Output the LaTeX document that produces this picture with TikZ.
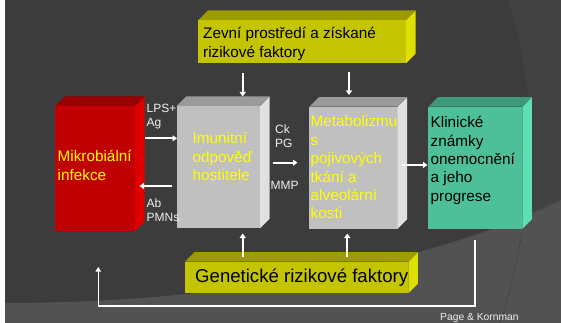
\documentclass[tikz,border=0pt]{standalone}
\usepackage{fontspec}
\setmainfont{Liberation Sans}
\usetikzlibrary{arrows.meta}
\definecolor{bgd}{HTML}{3C3C3C}
\definecolor{bgr}{HTML}{424242}
\definecolor{bgl}{HTML}{525252}
\definecolor{redF}{HTML}{C00000}
\definecolor{redS}{HTML}{E00000}
\definecolor{redT}{HTML}{990000}
\definecolor{grayF}{HTML}{C0C0C0}
\definecolor{grayS}{HTML}{E0E0E0}
\definecolor{grayT}{HTML}{9A9A9A}
\definecolor{grnF}{HTML}{4DBF99}
\definecolor{grnS}{HTML}{5CE0B4}
\definecolor{grnT}{HTML}{3E997A}
\definecolor{yelF}{HTML}{C4C400}
\definecolor{yelS}{HTML}{E0E000}
\definecolor{yelT}{HTML}{9C9C00}
\definecolor{txtY}{HTML}{FFFF00}
\definecolor{lbl}{HTML}{F0F0F0}
\newcommand\boxfaces[3]{%
  \fill[#2] (#1.north east) -- ++(9.5pt,9.5pt) -- ([shift={(9.5pt,9.5pt)}]#1.south east) -- (#1.south east) -- cycle;
  \fill[#3] (#1.north west) -- ++(9.5pt,9.5pt) -- ([shift={(9.5pt,9.5pt)}]#1.north east) -- (#1.north east) -- cycle;}
\tikzset{
  front/.style={anchor=north west, inner sep=0pt, outer sep=0pt, draw=none},
  btxt/.style={anchor=west, align=left, inner sep=0pt, font=\fontsize{15.3}{18.4}\selectfont},
  ltxt/.style={anchor=west, align=left, inner sep=0pt, text=lbl, font=\fontsize{12}{14}\selectfont},
  arr/.style={draw=white, line width=1.8pt, -{Triangle[length=4.5pt,width=6pt]}},
  fbarr/.style={draw=white, line width=1.4pt, -{Triangle[length=4.5pt,width=5.5pt]}}
}
\begin{document}
\begin{tikzpicture}[x=1pt,y=-1pt]
\useasboundingbox (0,0) rectangle (561,323);
% background
\fill[white] (0,0) rectangle (561,323);
\fill[bgd] (5,0) rectangle (561,323);
\fill[bgr] (508,0) .. controls (538,90) and (540,200) .. (500,323) -- (561,323) -- (561,0) -- cycle;
\fill[bgl] (5,303) .. controls (250,303) and (450,255) .. (561,200) -- (561,323) -- (5,323) -- cycle;
\draw[draw=bgd, line width=0.8pt, opacity=0.6] (522,233) .. controls (515,270) and (508,300) .. (500,323);

% boxes
\node[front, fill=redF, minimum width=80pt, minimum height=125pt] (red) at (55,106) {};
\boxfaces{red}{redS}{redT}
\node[front, fill=grayF, minimum width=83.3pt, minimum height=122.3pt] (imun) at (176.7,106) {};
\boxfaces{imun}{grayS}{grayT}
\node[front, fill=grayF, minimum width=88.4pt, minimum height=122pt] (metab) at (309.3,106.7) {};
\boxfaces{metab}{grayS}{grayT}
\node[front, fill=grnF, minimum width=94pt, minimum height=122pt] (klin) at (428.3,106.7) {};
\boxfaces{klin}{grnS}{grnT}
\node[front, fill=yelF, minimum width=207.7pt, minimum height=43.3pt] (zevni) at (198.3,20) {};
\boxfaces{zevni}{yelS}{yelT}
\node[front, fill=yelF, minimum width=223.3pt, minimum height=31.6pt] (genet) at (185,261.7) {};
\boxfaces{genet}{yelS}{yelT}

% box texts
\node[btxt, text=txtY] (tred) at (57.5,165.5) {Mikrobiální\\infekce};
\node[btxt, text=txtY] (timun) at (192.5,156.5) {Imunitní\\odpověď\\hostitele};
\node[btxt, text=txtY] (tmetab) at (310.5,167.5) {Metabolizmu\\s\\pojivových\\tkání a\\alveolární\\kosti};
\node[btxt, text=black] (tklin) at (430.5,160.5) {Klinické\\známky\\onemocnění\\a jeho\\progrese};
\node[btxt, text=black] (tzevni) at (203,43.8) {Zevní prostředí a získané\\rizikové faktory};
\node[anchor=west, inner sep=0pt, text=black, font=\fontsize{18.6}{22}\selectfont] (tgenet) at (195,278) {Genetické rizikové faktory};

% labels
\node[ltxt] (lps) at (146.5,116.5) {LPS+\\Ag};
\node[ltxt] (ab) at (146.5,210) {Ab\\PMNs};
\node[ltxt] (ck) at (275,136.3) {Ck\\PG};
\node[ltxt] (mmp) at (270.5,185.5) {MMP};
\node[anchor=west, inner sep=0pt, text=lbl, font=\fontsize{10.3}{12}\selectfont] (page) at (440,318.5) {Page \& Kornman};

% arrow coordinates
\coordinate (lpsA) at (145,138.3);  \coordinate (lpsB) at (177,138.3);
\coordinate (abA) at (172,186);     \coordinate (abB) at (139.5,186);
\coordinate (ckA) at (272.7,162.7); \coordinate (ckB) at (297.5,162.7);
\coordinate (mkA) at (402.3,165);   \coordinate (mkB) at (427.5,165);
\coordinate (z1A) at (242.7,73.3);  \coordinate (z1B) at (242.7,96.5);
\coordinate (z2A) at (349,71.7);    \coordinate (z2B) at (349,95);
\coordinate (g1A) at (242.7,257);   \coordinate (g1B) at (242.7,233.5);
\coordinate (g2A) at (347.3,257);   \coordinate (g2B) at (347.3,233.5);
\coordinate (fbA) at (475,240);     \coordinate (fbB) at (98.3,306);
\coordinate (fbC) at (98.3,267);

\draw[arr] (lpsA) -- (lpsB);
\draw[arr] (abA) -- (abB);
\draw[arr] (ckA) -- (ckB);
\draw[arr] (mkA) -- (mkB);
\draw[arr] (z1A) -- (z1B);
\draw[arr] (z2A) -- (z2B);
\draw[arr] (g1A) -- (g1B);
\draw[arr] (g2A) -- (g2B);
\draw[fbarr] (fbA) -- (fbA |- fbB) -- (fbB) -- (fbC);
\end{tikzpicture}
\end{document}
